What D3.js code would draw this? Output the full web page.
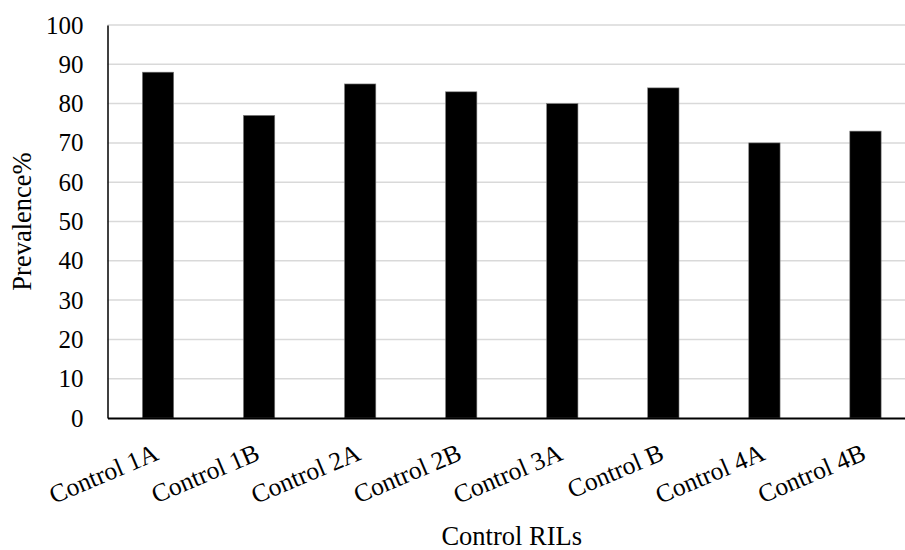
<!DOCTYPE html>
<html>
<head>
<meta charset="utf-8">
<script src="https://cdn.jsdelivr.net/npm/d3@7"></script>
<style>
  html, body { margin: 0; padding: 0; background: #fff; }
  svg { display: block; font-family: "Liberation Serif", "Times New Roman", Times, serif; }
</style>
</head>
<body>
<svg id="chart" width="905" height="550"></svg>
<script>
const categories = ["Control 1A", "Control 1B", "Control 2A", "Control 2B", "Control 3A", "Control B", "Control 4A", "Control 4B"];
const prevalence = [88, 77, 85, 83, 80, 84, 70, 73];
const yTicks = [0, 10, 20, 30, 40, 50, 60, 70, 80, 90, 100];
const yTitle = "Prevalence%";
const xTitle = "Control RILs";

const serif = "'Liberation Serif', 'Times New Roman', Times, serif";
const svg = d3.select("#chart");
const plotLeft = 107.5, plotRight = 916, plotTop = 25, plotBottom = 418;

const x = d3.scaleBand().domain(categories).range([plotLeft, plotRight]).paddingInner(0).paddingOuter(0);
const y = d3.scaleLinear().domain([0, 100]).range([plotBottom, plotTop]);
const barW = x.bandwidth() * 0.31;

// gridlines
svg.append("g").selectAll("line").data(yTicks.filter(d => d > 0)).join("line")
  .attr("x1", plotLeft).attr("x2", plotRight)
  .attr("y1", d => y(d)).attr("y2", d => y(d))
  .attr("stroke", "#d9d9d9").attr("stroke-width", 1.5);

// bars
svg.append("g").selectAll("rect").data(categories).join("rect")
  .attr("x", (d) => x(d) + x.bandwidth() / 2 - barW / 2)
  .attr("width", barW)
  .attr("y", (d, i) => y(prevalence[i]))
  .attr("height", (d, i) => y(0) - y(prevalence[i]))
  .attr("fill", "#000").attr("stroke", "#7f7f7f").attr("stroke-width", 0.6);

// y axis
const yAxis = d3.axisLeft(y).tickValues(yTicks).tickSize(0).tickPadding(24);
const gy = svg.append("g").attr("transform", `translate(${plotLeft},0)`).call(yAxis);
gy.attr("font-family", serif);
gy.select(".domain").attr("stroke", "#000").attr("stroke-width", 1.5);
gy.selectAll("text").attr("font-size", 25).attr("fill", "#000").style("font-family", serif);

// x axis
const xAxis = d3.axisBottom(x).tickSize(0).tickFormat(() => "");
const gx = svg.append("g").attr("transform", `translate(0,${plotBottom})`).call(xAxis);
gx.select(".domain").attr("stroke", "#000").attr("stroke-width", 1.8);

// rotated category labels
svg.append("g").selectAll("text").data(categories).join("text")
  .attr("transform", d => `translate(${x(d) + x.bandwidth() / 2 + 2},${plotBottom + 41}) rotate(-23)`)
  .attr("text-anchor", "end")
  .attr("font-size", 25.5)
  .attr("fill", "#000")
  .style("font-family", serif)
  .text(d => d);

// axis titles
svg.append("text")
  .attr("transform", `translate(31,${(plotTop + plotBottom) / 2}) rotate(-90)`)
  .attr("text-anchor", "middle")
  .attr("font-size", 26.5)
  .attr("fill", "#000")
  .style("font-family", serif)
  .text(yTitle);

svg.append("text")
  .attr("x", (plotLeft + plotRight) / 2)
  .attr("y", 545)
  .attr("text-anchor", "middle")
  .attr("font-size", 26.5)
  .attr("fill", "#000")
  .style("font-family", serif)
  .text(xTitle);
</script>
</body>
</html>
